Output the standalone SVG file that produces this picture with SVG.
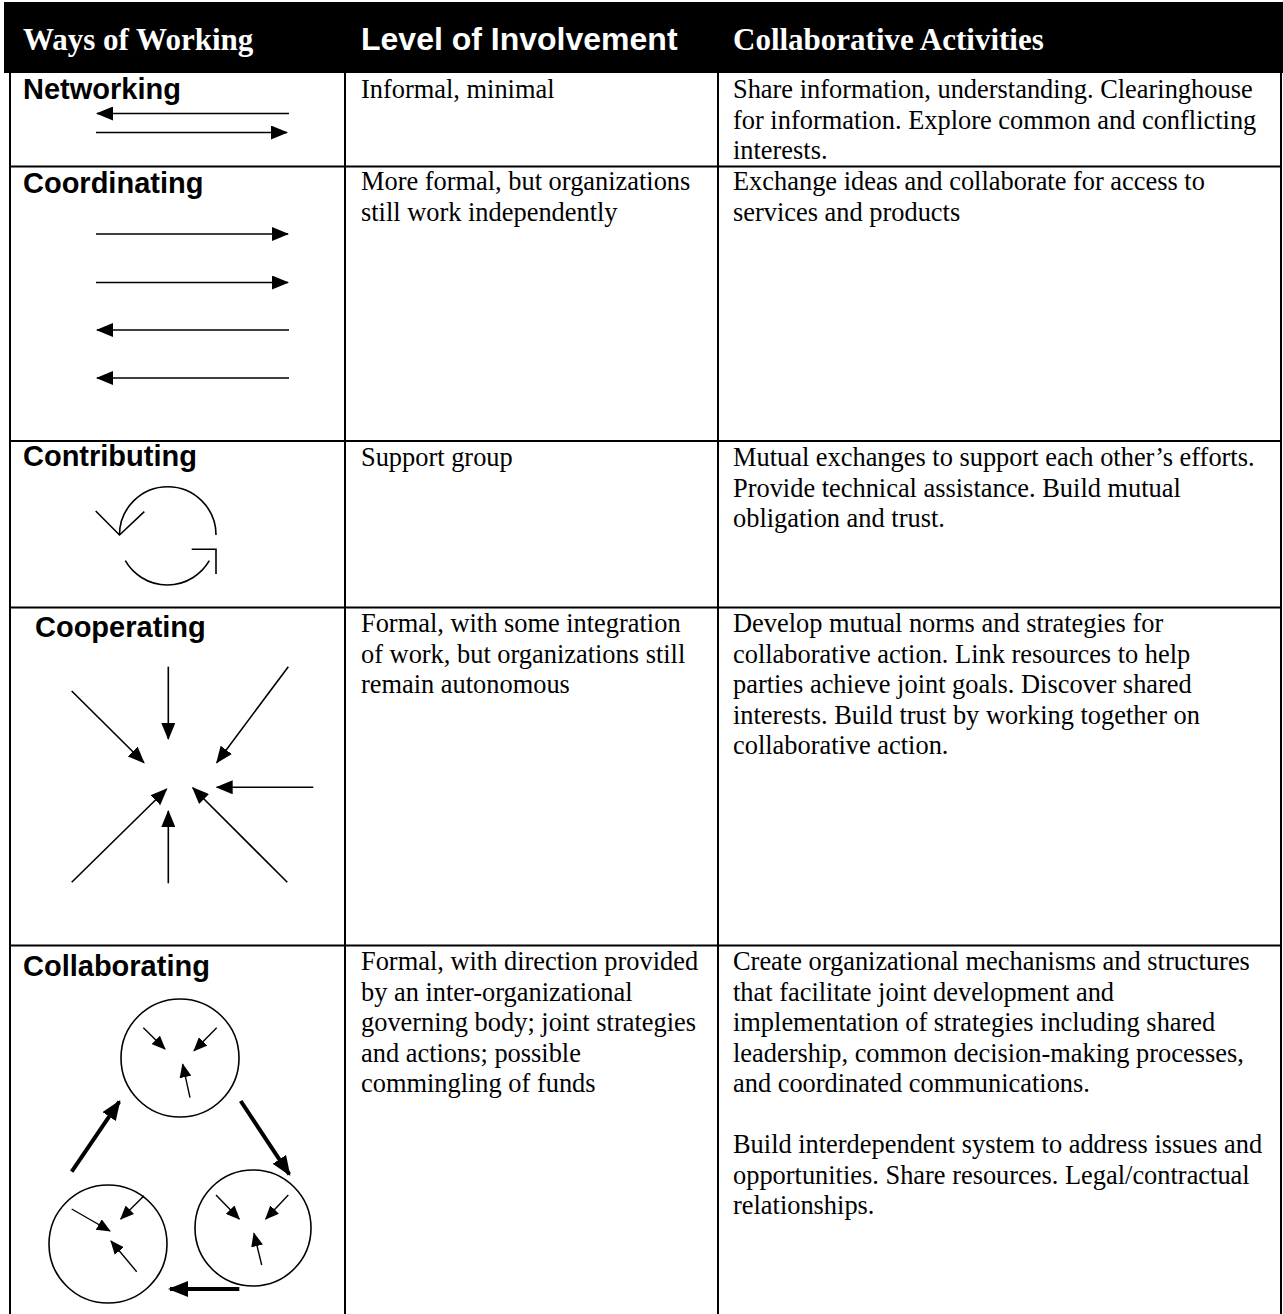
<svg xmlns="http://www.w3.org/2000/svg" width="1283" height="1314" viewBox="0 0 1283 1314">
<style>
.hs{font-family:"Liberation Serif","Times New Roman",serif;font-weight:bold;font-size:31px;fill:#fff}
.hh{font-family:"Liberation Sans",Arial,sans-serif;font-weight:bold;font-size:32px;fill:#fff}
.lab{font-family:"Liberation Sans",Arial,sans-serif;font-weight:bold;font-size:29px;fill:#000}
.body{font-family:"Liberation Serif","Times New Roman",serif;font-size:26.4px;fill:#000}
.grid{stroke:#000;stroke-width:2;fill:none}
.ar{stroke:#000;stroke-width:1.6;fill:none}
.ar2{stroke:#000;stroke-width:1.4;fill:none}
.thick{stroke:#000;stroke-width:4;fill:none}
.ln{stroke:#000;stroke-width:1.6;fill:none}
</style>
<defs>
<marker id="h" markerUnits="userSpaceOnUse" markerWidth="18" markerHeight="14" refX="16" refY="7" orient="auto"><path d="M0,0 L17,7 L0,14 z" fill="#000"/></marker>
<marker id="hs" markerUnits="userSpaceOnUse" markerWidth="14" markerHeight="12" refX="13" refY="6" orient="auto"><path d="M0,0 L14,6 L0,12 z" fill="#000"/></marker>
<marker id="hb" markerUnits="userSpaceOnUse" markerWidth="20" markerHeight="16" refX="18" refY="8" orient="auto"><path d="M0,0 L20,8 L0,16 z" fill="#000"/></marker>
</defs>
<rect width="1283" height="1314" fill="#fff"/>
<g id="header">
<rect x="4" y="2" width="1279" height="71" fill="#000"/>
<text class="hs" x="23" y="50">Ways of Working</text>
<text class="hh" x="361" y="50">Level of Involvement</text>
<text class="hs" x="733" y="50">Collaborative Activities</text>
</g>
<g id="grid">
<line class="grid" x1="10" y1="73" x2="10" y2="1314"/>
<line class="grid" x1="345" y1="73" x2="345" y2="1314"/>
<line class="grid" x1="718" y1="73" x2="718" y2="1314"/>
<line class="grid" x1="1281" y1="73" x2="1281" y2="1314"/>
<line class="grid" x1="10" y1="166.5" x2="1281" y2="166.5"/>
<line class="grid" x1="10" y1="441" x2="1281" y2="441"/>
<line class="grid" x1="10" y1="607.5" x2="1281" y2="607.5"/>
<line class="grid" x1="10" y1="945.5" x2="1281" y2="945.5"/>
</g>
<g id="row-networking">
<text class="lab" x="23" y="99">Networking</text>
<text class="body" x="361" y="98">Informal, minimal</text>
<text class="body" x="733" y="98">Share information, understanding. Clearinghouse</text>
<text class="body" x="733" y="128.5">for information. Explore common and conflicting</text>
<text class="body" x="733" y="159">interests.</text>
</g>
<g id="row-coordinating">
<text class="lab" x="23" y="193">Coordinating</text>
<text class="body" x="361" y="190">More formal, but organizations</text>
<text class="body" x="361" y="220.5">still work independently</text>
<text class="body" x="733" y="190">Exchange ideas and collaborate for access to</text>
<text class="body" x="733" y="220.5">services and products</text>
</g>
<g id="row-contributing">
<text class="lab" x="23" y="466">Contributing</text>
<text class="body" x="361" y="466">Support group</text>
<text class="body" x="733" y="466">Mutual exchanges to support each other’s efforts.</text>
<text class="body" x="733" y="496.5">Provide technical assistance. Build mutual</text>
<text class="body" x="733" y="527">obligation and trust.</text>
</g>
<g id="row-cooperating">
<text class="lab" x="35" y="637">Cooperating</text>
<text class="body" x="361" y="632">Formal, with some integration</text>
<text class="body" x="361" y="662.5">of work, but organizations still</text>
<text class="body" x="361" y="693">remain autonomous</text>
<text class="body" x="733" y="632">Develop mutual norms and strategies for</text>
<text class="body" x="733" y="662.5">collaborative action. Link resources to help</text>
<text class="body" x="733" y="693">parties achieve joint goals. Discover shared</text>
<text class="body" x="733" y="723.5">interests. Build trust by working together on</text>
<text class="body" x="733" y="754">collaborative action.</text>
</g>
<g id="row-collaborating">
<text class="lab" x="23" y="976">Collaborating</text>
<text class="body" x="361" y="970">Formal, with direction provided</text>
<text class="body" x="361" y="1000.5">by an inter-organizational</text>
<text class="body" x="361" y="1031">governing body; joint strategies</text>
<text class="body" x="361" y="1061.5">and actions; possible</text>
<text class="body" x="361" y="1092">commingling of funds</text>
<text class="body" x="733" y="970">Create organizational mechanisms and structures</text>
<text class="body" x="733" y="1000.5">that facilitate joint development and</text>
<text class="body" x="733" y="1031">implementation of strategies including shared</text>
<text class="body" x="733" y="1061.5">leadership, common decision-making processes,</text>
<text class="body" x="733" y="1092">and coordinated communications.</text>
<text class="body" x="733" y="1153">Build interdependent system to address issues and</text>
<text class="body" x="733" y="1183.5">opportunities. Share resources. Legal/contractual</text>
<text class="body" x="733" y="1214">relationships.</text>
<circle class="ln" cx="180" cy="1058" r="59"/>
<circle class="ln" cx="108" cy="1244" r="59"/>
<circle class="ln" cx="253" cy="1228" r="58"/>
</g>
<g id="connectors">
<line class="ar" x1="289" y1="113.5" x2="97" y2="113.5" marker-end="url(#h)"/>
<line class="ar" x1="96" y1="132.5" x2="287" y2="132.5" marker-end="url(#h)"/>
<line class="ar" x1="96" y1="234" x2="288" y2="234" marker-end="url(#h)"/>
<line class="ar" x1="96" y1="282.5" x2="288" y2="282.5" marker-end="url(#h)"/>
<line class="ar" x1="289" y1="330" x2="97" y2="330" marker-end="url(#h)"/>
<line class="ar" x1="289" y1="378" x2="97" y2="378" marker-end="url(#h)"/>
<path class="ln" d="M119.5,535 A48,48 0 0 1 216,535"/>
<path class="ln" d="M95.7,511 L119.5,535 L144.3,511.7"/>
<path class="ln" d="M125.3,560.7 A48.5,48.5 0 0 0 209.3,560.7"/>
<path class="ln" d="M191.7,549.3 L216,549.3 L216,574"/>
<line class="ar" x1="168.3" y1="666.7" x2="168.3" y2="739" marker-end="url(#h)"/>
<line class="ar" x1="71.7" y1="691" x2="144" y2="762.7" marker-end="url(#h)"/>
<line class="ar" x1="288.3" y1="666.7" x2="216.7" y2="762.7" marker-end="url(#h)"/>
<line class="ar" x1="313.3" y1="787.3" x2="216.7" y2="787.3" marker-end="url(#h)"/>
<line class="ar" x1="71.7" y1="882.3" x2="166.7" y2="789" marker-end="url(#h)"/>
<line class="ar" x1="168.3" y1="883.3" x2="168.3" y2="811" marker-end="url(#h)"/>
<line class="ar" x1="287.3" y1="882.3" x2="192.7" y2="787.7" marker-end="url(#h)"/>
<line class="ar2" x1="143.3" y1="1027.7" x2="165" y2="1049" marker-end="url(#hs)"/>
<line class="ar2" x1="216.7" y1="1027.7" x2="194" y2="1050.7" marker-end="url(#hs)"/>
<line class="ar2" x1="190" y1="1097.7" x2="182.7" y2="1064.3" marker-end="url(#hs)"/>
<line class="ar2" x1="216" y1="1195" x2="239.3" y2="1219" marker-end="url(#hs)"/>
<line class="ar2" x1="288.3" y1="1195" x2="265.7" y2="1219" marker-end="url(#hs)"/>
<line class="ar2" x1="261.7" y1="1265" x2="254" y2="1233.3" marker-end="url(#hs)"/>
<line class="ar2" x1="71.7" y1="1209" x2="110" y2="1231" marker-end="url(#hs)"/>
<line class="ar2" x1="144" y1="1195.7" x2="120.7" y2="1219" marker-end="url(#hs)"/>
<line class="ar2" x1="136.7" y1="1271.7" x2="111" y2="1241" marker-end="url(#hs)"/>
<line class="thick" x1="71.7" y1="1171.7" x2="119.3" y2="1101.7" marker-end="url(#hb)"/>
<line class="thick" x1="240.7" y1="1101" x2="289.3" y2="1174.3" marker-end="url(#hb)"/>
<line class="thick" x1="239.3" y1="1289" x2="170" y2="1289" marker-end="url(#hb)"/>
</g>
</svg>
